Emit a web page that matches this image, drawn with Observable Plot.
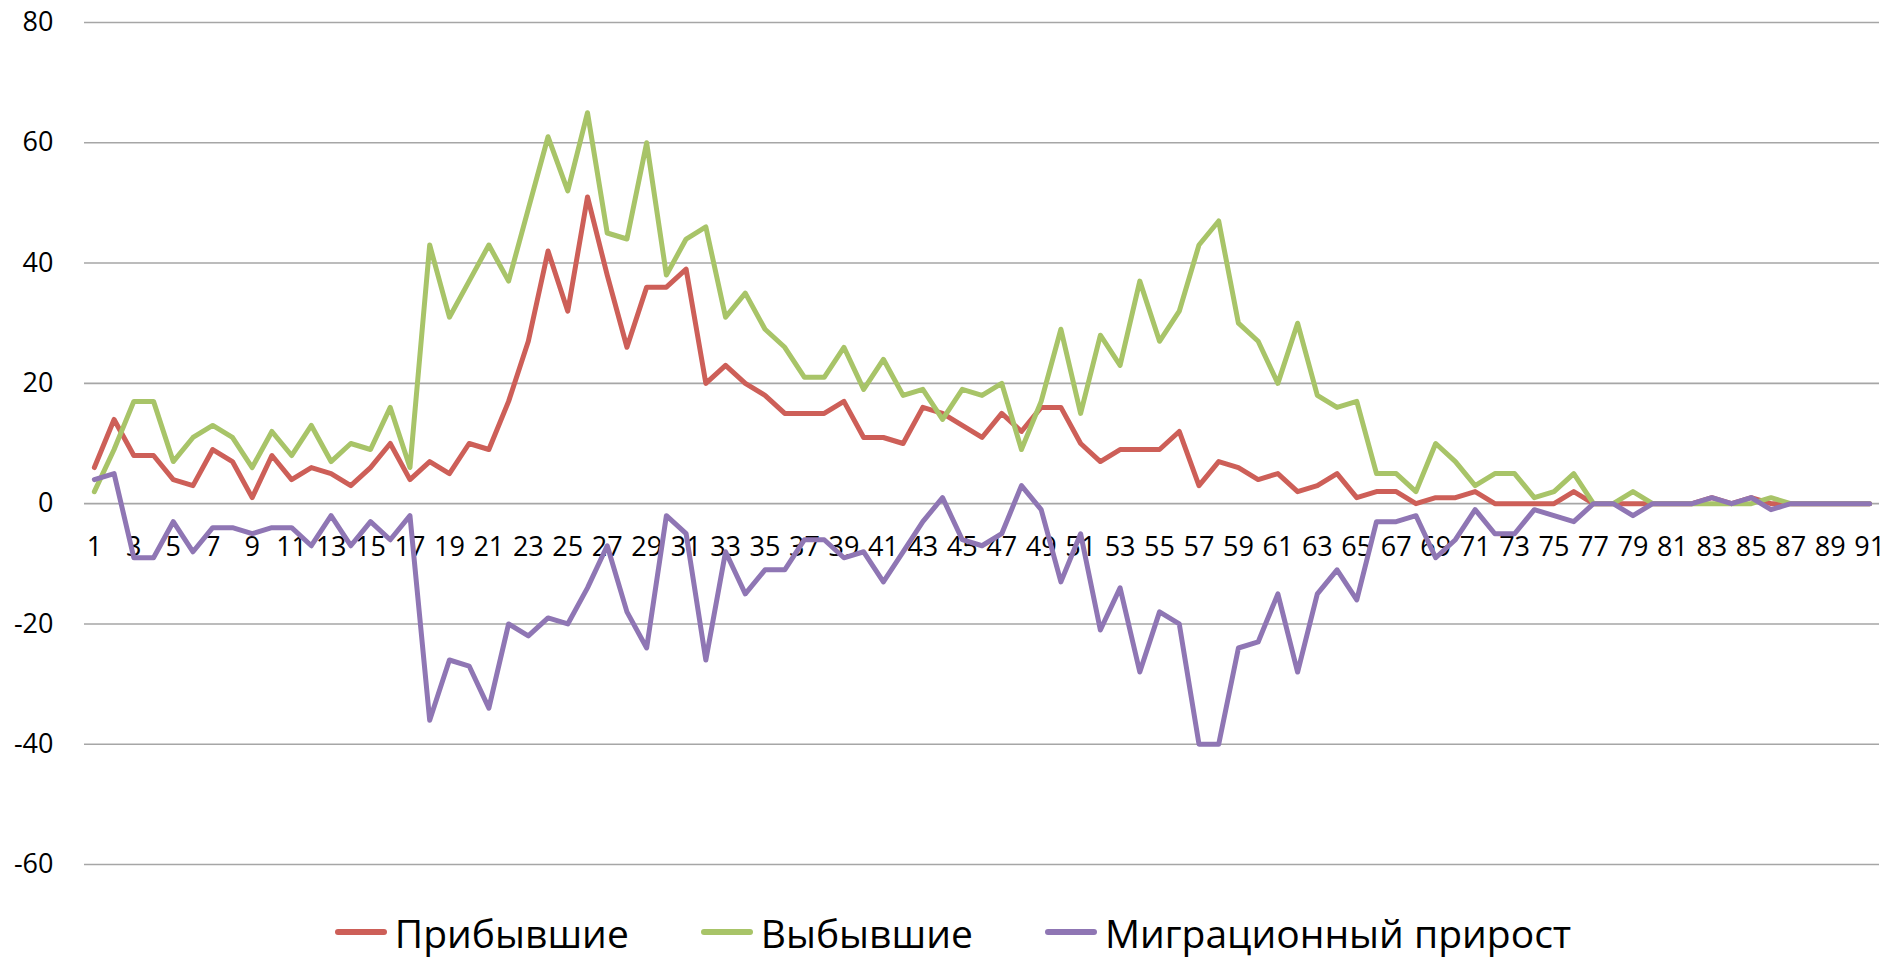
<!DOCTYPE html>
<html><head><meta charset="utf-8">
<script src="https://cdn.jsdelivr.net/npm/d3@7"></script>
<script src="https://cdn.jsdelivr.net/npm/@observablehq/plot@0.6"></script>
<style>
html,body{margin:0;padding:0;background:#fff;}
body{width:1886px;height:964px;overflow:hidden;font-family:"Open Sans",sans-serif;}
#legend{display:flex;justify-content:center;align-items:center;height:64px;padding-left:20px;font-size:39px;color:#000;}
.item{display:flex;align-items:center;margin:0 36px;}
.sw{width:52px;height:6px;border-radius:3px;margin-right:8px;}
</style></head><body>
<div id="chart"></div><div id="legend"></div>
<script>
const categories = Array.from({length: 91}, (_, i) => i + 1);
const arrived = [6,14,8,8,4,3,9,7,1,8,4,6,5,3,6,10,4,7,5,10,9,17,27,42,32,51,38,26,36,36,39,20,23,20,18,15,15,15,17,11,11,10,16,15,13,11,15,12,16,16,10,7,9,9,9,12,3,7,6,4,5,2,3,5,1,2,2,0,1,1,2,0,0,0,0,2,0,0,0,0,0,0,1,0,1,0,0,0,0,0,0];
const departed = [2,9,17,17,7,11,13,11,6,12,8,13,7,10,9,16,6,43,31,37,43,37,49,61,52,65,45,44,60,38,44,46,31,35,29,26,21,21,26,19,24,18,19,14,19,18,20,9,17,29,15,28,23,37,27,32,43,47,30,27,20,30,18,16,17,5,5,2,10,7,3,5,5,1,2,5,0,0,2,0,0,0,0,0,0,1,0,0,0,0,0];
const net = [4,5,-9,-9,-3,-8,-4,-4,-5,-4,-4,-7,-2,-7,-3,-6,-2,-36,-26,-27,-34,-20,-22,-19,-20,-14,-7,-18,-24,-2,-5,-26,-8,-15,-11,-11,-6,-6,-9,-8,-13,-8,-3,1,-6,-7,-5,3,-1,-13,-5,-21,-14,-28,-18,-20,-40,-40,-24,-23,-15,-28,-15,-11,-16,-3,-3,-2,-9,-6,-1,-5,-5,-1,-2,-3,0,0,-2,0,0,0,1,0,1,-1,0,0,0,0,0];
const seriesNames = ["Прибывшие", "Выбывшие", "Миграционный прирост"];
const seriesColors = ["#CD5F58", "#A8C468", "#8F76B4"];
const yTicks = [-60, -40, -20, 0, 20, 40, 60, 80];
const xTickLabels = categories.filter(c => c % 2 === 1);

const seriesValues = [arrived, departed, net];
const rows = [];
seriesNames.forEach((name, s) => {
  categories.forEach((c, i) => rows.push({x: c, y: seriesValues[s][i], series: name}));
});

const chart = Plot.plot({
  width: 1886,
  height: 900,
  marginTop: 22,
  marginBottom: 36,
  marginLeft: 84,
  marginRight: 7,
  x: {type: "linear", domain: [0.5, 91.5], axis: null},
  y: {domain: [-60, 80], axis: null},
  color: {domain: seriesNames, range: seriesColors},
  style: {fontFamily: "Open Sans", fontSize: "27px", color: "#000", background: "#fff"},
  marks: [
    Plot.ruleY(yTicks, {stroke: "#a6a6a6", strokeWidth: 1.6}),
    Plot.axisY(yTicks, {label: null, tickSize: 0, tickPadding: 31, tickFormat: d => String(d), fontSize: 27, fill: "#000"}),
    Plot.text(xTickLabels, {x: d => d, y: d => 0, text: d => String(d), dy: 44, lineAnchor: "middle", fontSize: 27, fill: "#000"}),
    Plot.line(rows, {x: "x", y: "y", z: "series", stroke: "series", strokeWidth: 5, strokeLinejoin: "round", strokeLinecap: "round"})
  ]
});
document.getElementById("chart").appendChild(chart);

const legend = document.getElementById("legend");
seriesNames.forEach((name, i) => {
  const item = document.createElement("div");
  item.className = "item";
  const sw = document.createElement("div");
  sw.className = "sw";
  sw.style.background = seriesColors[i];
  const label = document.createElement("span");
  label.textContent = name;
  item.appendChild(sw);
  item.appendChild(label);
  legend.appendChild(item);
});
</script>
</body></html>
